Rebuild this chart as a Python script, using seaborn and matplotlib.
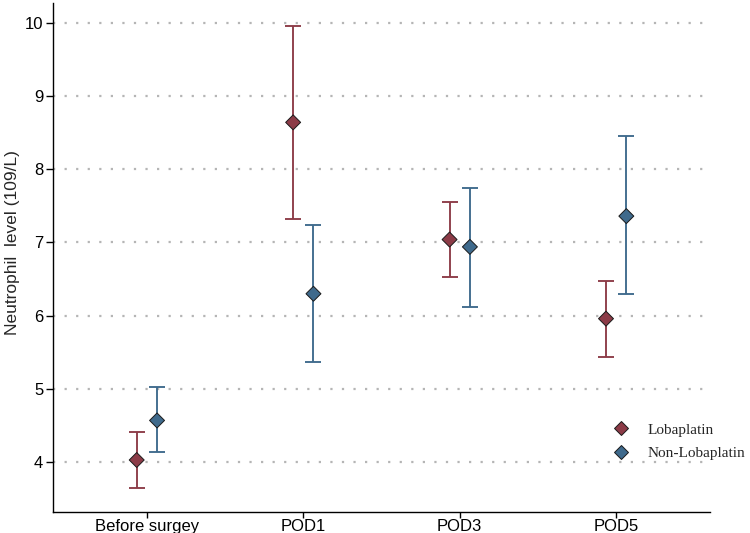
import matplotlib
matplotlib.use("Agg")
import matplotlib.pyplot as plt
import seaborn as sns
import pandas as pd
import numpy as np
from matplotlib.lines import Line2D

# ---- data ----
timepoints = ["Before surgey", "POD1", "POD3", "POD5"]
groups = ["Lobaplatin", "Non-Lobaplatin"]
lob_mean = [4.03, 8.64, 7.04, 5.96]
lob_low = [3.65, 7.32, 6.53, 5.44]
lob_high = [4.41, 9.96, 7.55, 6.47]
non_mean = [4.57, 6.30, 6.94, 7.36]
non_low = [4.14, 5.37, 6.12, 6.29]
non_high = [5.02, 7.24, 7.74, 8.46]
yticks = [4, 5, 6, 7, 8, 9, 10]

colors = {"Lobaplatin": "#8C3B47", "Non-Lobaplatin": "#3F6A8C"}
offsets = {"Lobaplatin": -0.065, "Non-Lobaplatin": 0.065}

rows = []
for g, m, lo, hi in [("Lobaplatin", lob_mean, lob_low, lob_high),
                     ("Non-Lobaplatin", non_mean, non_low, non_high)]:
    for i, t in enumerate(timepoints):
        rows.append({"time": t, "idx": i, "group": g, "mean": m[i], "low": lo[i], "high": hi[i]})
df = pd.DataFrame(rows)
df["xpos"] = df["idx"] + df["group"].map(offsets)

sns.set_theme(style="white")
plt.rcParams["font.family"] = ["Liberation Sans", "DejaVu Sans"]

fig = plt.figure(figsize=(7.5, 5.33), dpi=100)
ax = fig.add_axes([0.0707, 0.0394, 0.876, 0.955])

for y in yticks:
    ax.axhline(y, color="#b5b5b5", lw=1.6, ls=(0, (1, 4.2)), zorder=0)

for g in groups:
    sub = df[df["group"] == g]
    ax.errorbar(sub["xpos"], sub["mean"],
                yerr=[sub["mean"] - sub["low"], sub["high"] - sub["mean"]],
                fmt="none", ecolor=colors[g], elinewidth=1.35, capsize=5.5, capthick=1.35, zorder=2)

sns.scatterplot(data=df, x="xpos", y="mean", hue="group", palette=colors, marker="D",
                s=58, edgecolor="#1a1a1a", linewidth=0.7, zorder=3, ax=ax, legend=False)

ax.set_xlim(-0.6, 3.6)
ax.set_ylim(3.32, 10.27)
ax.set_xticks(range(len(timepoints)))
ax.set_xticklabels(timepoints)
ax.set_yticks(yticks)
ax.tick_params(axis="both", labelsize=12, colors="black", length=5, width=1, direction="out",
               bottom=True, left=True)
ax.tick_params(axis="x", length=4, pad=1)
ax.tick_params(axis="y", pad=2)
ax.set_xlabel("")
ax.set_ylabel("Neutrophil  level (109/L)", fontsize=12.5)
ax.yaxis.set_label_coords(-0.051, 0.53)

for s in ["top", "right"]:
    ax.spines[s].set_visible(False)
for s in ["left", "bottom"]:
    ax.spines[s].set_color("black")
    ax.spines[s].set_linewidth(1.0)

handles = [Line2D([], [], marker="D", ls="none", markersize=7.5, markerfacecolor=colors[g],
                  markeredgecolor="#1a1a1a", markeredgewidth=0.7) for g in groups]
leg = fig.legend(handles, groups, loc="upper left", bbox_to_anchor=(0.798, 0.232),
                 bbox_transform=fig.transFigure, frameon=False,
                 prop={"family": "Liberation Serif", "size": 11}, handletextpad=1.1,
                 labelspacing=0.65, handlelength=1.2)

fig.savefig("out.png", dpi=100)
